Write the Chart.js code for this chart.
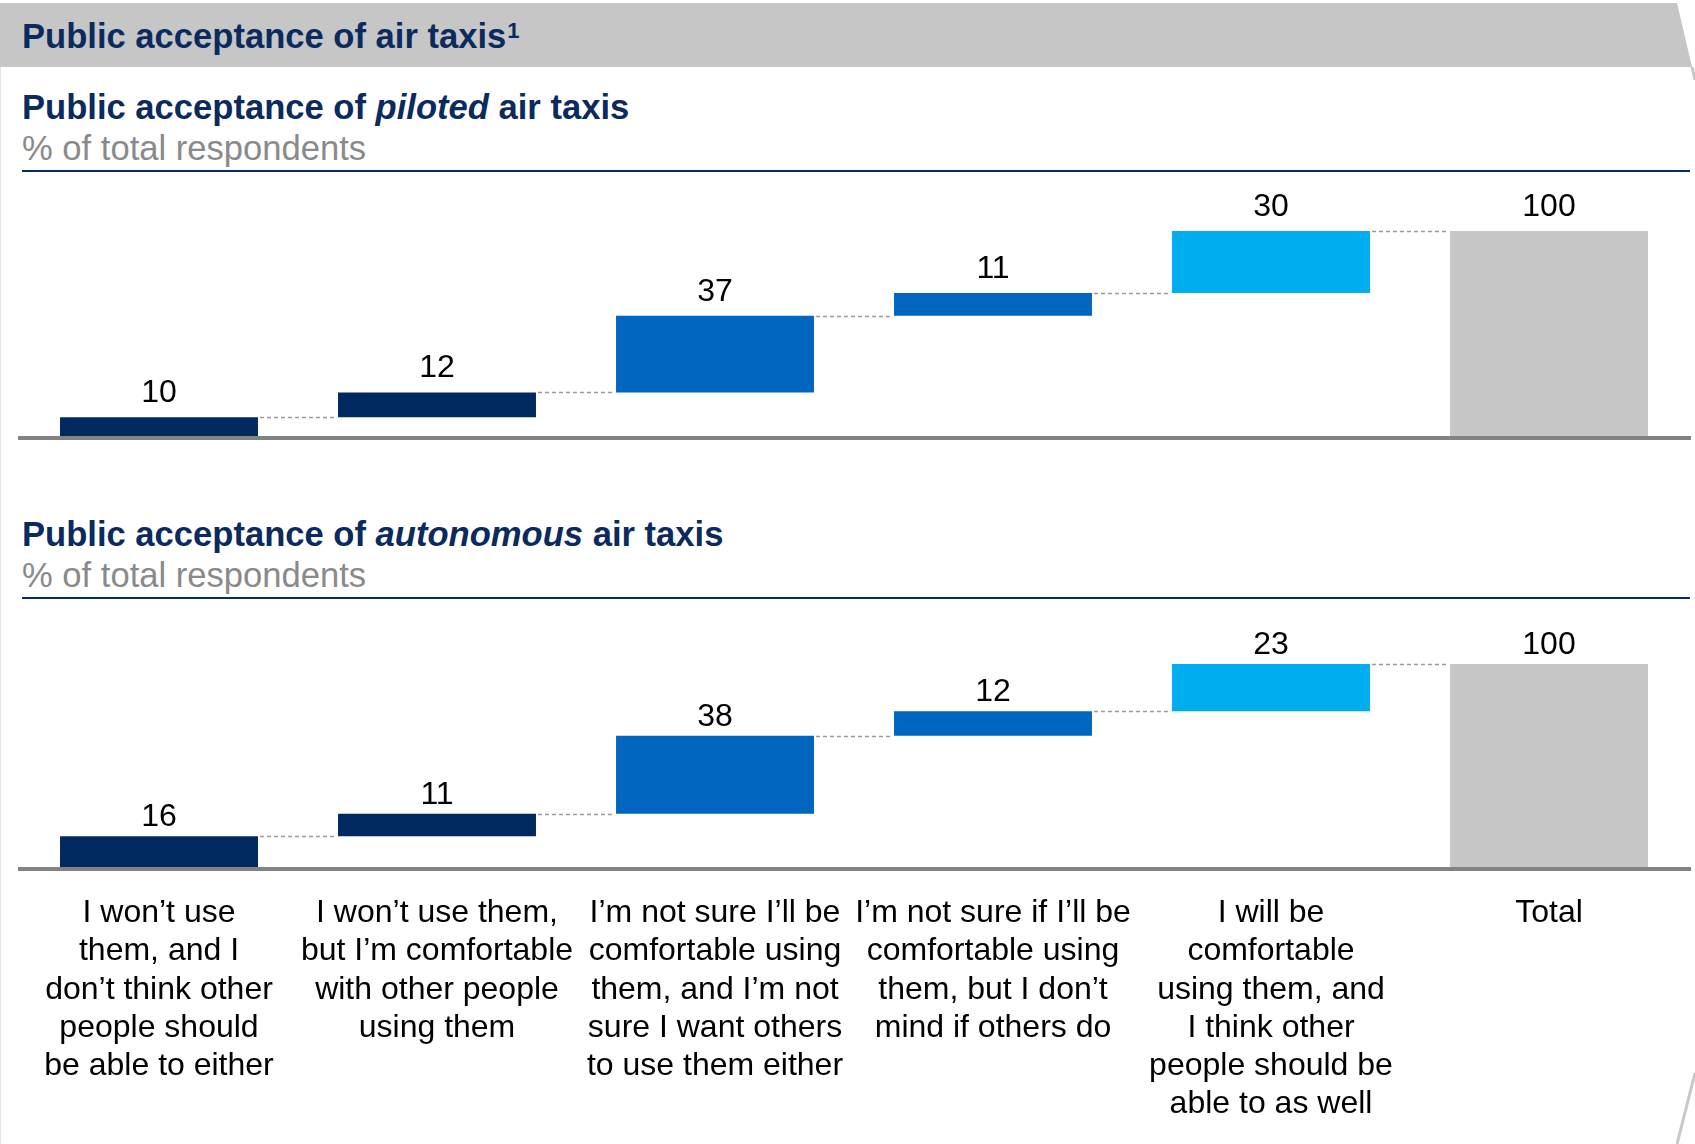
<!DOCTYPE html>
<html>
<head>
<meta charset="utf-8">
<script src="https://cdn.jsdelivr.net/npm/chart.js@4.4.0/dist/chart.umd.min.js"></script>
<style>
  body { margin: 0; background: #fff; width: 1695px; height: 1144px; overflow: hidden; position: relative;
         font-family: "Liberation Sans", Arial, sans-serif; }
  .txt { position: absolute; white-space: nowrap; left: 22px; font-size: 34.6px; line-height: 35px; }
  .bold { font-weight: bold; color: #0b2a5e; }
  .grey { color: #8a8a8a; }
  .rule { position: absolute; left: 22px; width: 1668px; height: 2px; background: #0b2a5e; }
  sup { font-size: 22px; font-weight: bold; vertical-align: top; position: relative; top: -6px; margin-left: 1px; }
  canvas { position: absolute; left: 0; }
</style>
</head>
<body>
<svg width="1695" height="1144" style="position:absolute;left:0;top:0">
  <polygon points="0,3 1677,3 1692,67 0,67" fill="#c6c6c6"/>
  <line x1="1692" y1="67" x2="1695" y2="80" stroke="#c6c6c6" stroke-width="3"/>
  <line x1="1695" y1="1073" x2="1677" y2="1144" stroke="#c8c8c8" stroke-width="3"/>
  <line x1="0.5" y1="67" x2="0.5" y2="1144" stroke="#e4e4e4" stroke-width="1"/>
</svg>

<div class="txt bold" style="top:19px">Public acceptance of air taxis<sup>1</sup></div>

<div class="txt bold" style="top:90px">Public acceptance of <i>piloted</i> air taxis</div>
<div class="txt grey" style="top:131px">% of total respondents</div>
<div class="rule" style="top:170px"></div>
<canvas id="pilotedChart" style="top:180px" width="1695" height="270"></canvas>

<div class="txt bold" style="top:517px">Public acceptance of <i>autonomous</i> air taxis</div>
<div class="txt grey" style="top:558px">% of total respondents</div>
<div class="rule" style="top:597px"></div>
<canvas id="autonomousChart" style="top:600px" width="1695" height="544"></canvas>

<script>
// 類別標籤(多行)
const categories = [
    ["I won\u2019t use", "them, and I", "don\u2019t think other", "people should", "be able to either"],
    ["I won\u2019t use them,", "but I\u2019m comfortable", "with other people", "using them"],
    ["I\u2019m not sure I\u2019ll be", "comfortable using", "them, and I\u2019m not", "sure I want others", "to use them either"],
    ["I\u2019m not sure if I\u2019ll be", "comfortable using", "them, but I don\u2019t", "mind if others do"],
    ["I will be", "comfortable", "using them, and", "I think other", "people should be", "able to as well"],
    ["Total"]
];

// 數值(最後一項為總計)
const pilotedValues = [10, 12, 37, 11, 30, 100];
const autonomousValues = [16, 11, 38, 12, 23, 100];

const barColors = ["#002960", "#002960", "#0066c0", "#0066c0", "#00aeef", "#c6c6c6"];

// 將數值轉為瀑布圖的浮動區間
function toRanges(values) {
    let run = 0;
    return values.map((v, i) => {
        if (i === values.length - 1) return [0, v];
        const r = [run, run + v];
        run += v;
        return r;
    });
}

// 畫連接虛線、底線與數值標籤
const waterfallDeco = {
    id: "waterfallDeco",
    afterDatasetsDraw(chart, args, opts) {
        const ctx = chart.ctx;
        const meta = chart.getDatasetMeta(0);
        const y = chart.scales.y;
        const ranges = chart.data.datasets[0].data;
        ctx.save();

        ctx.strokeStyle = "#9a9a9a";
        ctx.lineWidth = 1.5;
        ctx.setLineDash([4, 3]);
        for (let i = 0; i < meta.data.length - 1; i++) {
            const a = meta.data[i], b = meta.data[i + 1];
            const yy = Math.round(y.getPixelForValue(ranges[i][1])) + 0.5;
            ctx.beginPath();
            ctx.moveTo(a.x + a.width / 2 + 2, yy);
            ctx.lineTo(b.x - b.width / 2 - 2, yy);
            ctx.stroke();
        }

        ctx.setLineDash([]);
        ctx.strokeStyle = "#828282";
        ctx.lineWidth = 4;
        const y0 = y.getPixelForValue(0);
        ctx.beginPath();
        ctx.moveTo(chart.chartArea.left - 2, y0);
        ctx.lineTo(1691, y0);
        ctx.stroke();

        ctx.fillStyle = "#000";
        ctx.font = '32px "Liberation Sans", Arial, sans-serif';
        ctx.textAlign = "center";
        ctx.textBaseline = "alphabetic";
        meta.data.forEach((el, i) => {
            const top = y.getPixelForValue(ranges[i][1]);
            ctx.fillText(String(opts.values[i]), el.x, top - opts.gap);
        });
        ctx.restore();
    }
};

function makeChart(id, values, showLabels, padding, axisHeight, gap) {
    const ctx = document.getElementById(id).getContext("2d");
    return new Chart(ctx, {
        type: "bar",
        data: {
            labels: categories,
            datasets: [{
                data: toRanges(values),
                backgroundColor: barColors,
                borderWidth: 0,
                barPercentage: 0.712,
                categoryPercentage: 1
            }]
        },
        options: {
            responsive: false,
            animation: false,
            layout: { padding: padding },
            plugins: {
                legend: { display: false },
                tooltip: { enabled: false },
                waterfallDeco: { values: values, gap: gap }
            },
            scales: {
                y: { display: false, min: 0, max: 100 },
                x: {
                    display: showLabels,
                    grid: { display: false, drawTicks: false },
                    border: { display: false },
                    ticks: {
                        color: "#000",
                        padding: 25,
                        autoSkip: false,
                        maxRotation: 0,
                        minRotation: 0,
                        font: { family: '"Liberation Sans", Arial, sans-serif', size: 32, lineHeight: "38.3px" }
                    },
                    afterFit: (s) => { if (axisHeight) s.height = axisHeight; }
                }
            }
        },
        plugins: [waterfallDeco]
    });
}

makeChart("pilotedChart", pilotedValues, false, { left: 20, right: 7, top: 51, bottom: 12 }, 0, 15);
makeChart("autonomousChart", autonomousValues, true, { left: 20, right: 7, top: 64, bottom: 0 }, 275, 10);
</script>
</body>
</html>
